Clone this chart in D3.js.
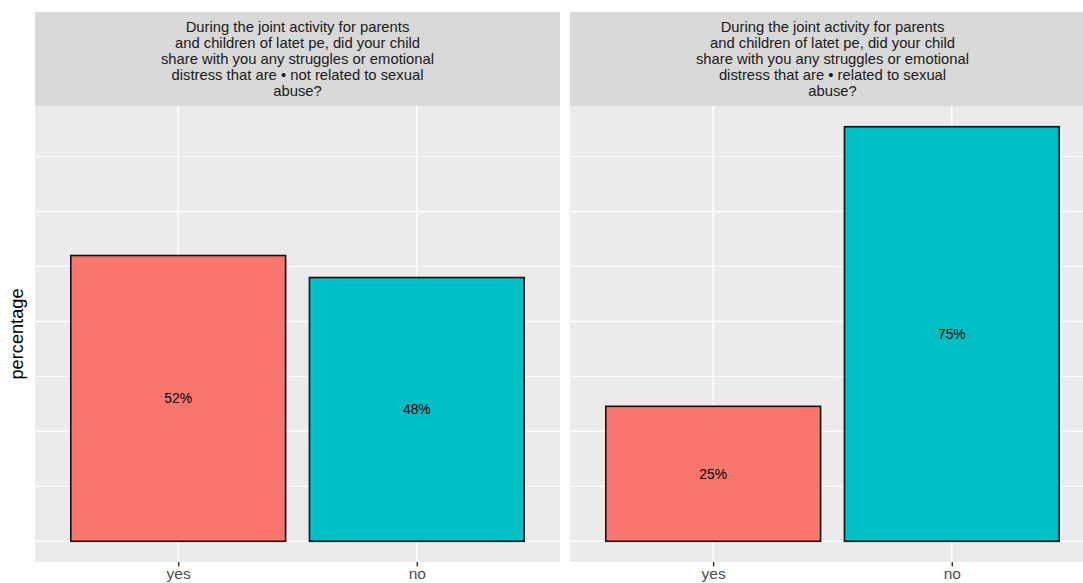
<!DOCTYPE html>
<html><head><meta charset="utf-8">
<script src="https://cdn.jsdelivr.net/npm/d3@7"></script>
<style>body{margin:0;background:#fff}svg{display:block}</style>
</head><body>
<svg id="c" width="1083" height="583"></svg>
<script>
const categories = ["yes", "no"];
const tickLabels = ["yes", "no"];
const facetTitles = [
  ["During the joint activity for parents","and children of latet pe, did your child","share with you any struggles or emotional","distress that are \u2022 not related to sexual","abuse?"],
  ["During the joint activity for parents","and children of latet pe, did your child","share with you any struggles or emotional","distress that are \u2022 related to sexual","abuse?"]
];
const facetValues = [[0.52, 0.48],[0.2456, 0.7544]];
const valueLabels = [["52%","48%"],["25%","75%"]];
const majorBreaks = [0, 0.2, 0.4, 0.6];
const minorBreaks = [0.1, 0.3, 0.5, 0.7];
const colors = ["#F8766D", "#00BFC4"];

const svg = d3.select("#c");
const font = "'Liberation Sans', Arial, sans-serif";
const panelTop = 106, panelBottom = 562, stripTop = 12;
const panelW = 525;
const panelX = [35, 570];

const vmax = d3.max(facetValues.flat());
const y = d3.scaleLinear().domain([-0.05*vmax, 1.05*vmax]).range([panelBottom, panelTop]);
const xLin = d3.scaleLinear().domain([0.4, 2.6]).range([0, panelW]);

facetValues.forEach((vals, f) => {
  const g = svg.append("g").attr("transform", `translate(${panelX[f]},0)`);
  // strip
  g.append("rect").attr("x",0).attr("y",stripTop).attr("width",panelW).attr("height",panelTop-stripTop).attr("fill","#D9D9D9");
  const lines = facetTitles[f];
  const cy = (stripTop+panelTop)/2, lh = 16;
  g.append("g").selectAll("text").data(lines).join("text")
    .attr("x", panelW/2)
    .attr("y", (d,i)=> cy + (i-(lines.length-1)/2)*lh)
    .attr("dy","0.35em")
    .attr("text-anchor","middle")
    .attr("font-family",font).attr("font-size",14.8)
    .attr("fill","#1A1A1A")
    .text(d=>d);
  // panel
  g.append("rect").attr("x",0).attr("y",panelTop).attr("width",panelW).attr("height",panelBottom-panelTop).attr("fill","#EBEBEB");
  g.append("g").selectAll("line.minor").data(minorBreaks).join("line")
    .attr("x1",0).attr("x2",panelW).attr("y1",d=>y(d)).attr("y2",d=>y(d))
    .attr("stroke","#fff").attr("stroke-width",0.9);
  g.append("g").selectAll("line.major").data(majorBreaks).join("line")
    .attr("x1",0).attr("x2",panelW).attr("y1",d=>y(d)).attr("y2",d=>y(d))
    .attr("stroke","#fff").attr("stroke-width",1.6);
  g.append("g").selectAll("line.v").data(categories).join("line")
    .attr("x1",(d,i)=>xLin(i+1)).attr("x2",(d,i)=>xLin(i+1))
    .attr("y1",panelTop).attr("y2",panelBottom)
    .attr("stroke","#fff").attr("stroke-width",1.6);
  // bars
  const bw = xLin(1.45) - xLin(1);
  g.append("g").selectAll("rect").data(vals).join("rect")
    .attr("x",(d,i)=>xLin(i+1)-bw)
    .attr("width",2*bw)
    .attr("y",d=>y(d))
    .attr("height",d=>y(0)-y(d))
    .attr("fill",(d,i)=>colors[i])
    .attr("stroke","#111").attr("stroke-width",1.6);
  g.append("g").selectAll("text").data(vals).join("text")
    .attr("x",(d,i)=>xLin(i+1))
    .attr("y",d=>(y(d)+y(0))/2)
    .attr("dy","0.35em")
    .attr("text-anchor","middle")
    .attr("font-family",font).attr("font-size",13.8)
    .attr("fill","#000")
    .text((d,i)=>valueLabels[f][i]);
  // x axis
  const xb = d3.scalePoint().domain(tickLabels).range([xLin(1), xLin(2)]);
  const ax = g.append("g").attr("transform",`translate(0,${panelBottom})`)
    .call(d3.axisBottom(xb).tickSize(4.5).tickPadding(1.2));
  ax.select(".domain").remove();
  ax.selectAll(".tick line").attr("stroke","#333").attr("stroke-width",1.4);
  ax.selectAll(".tick text").attr("font-family",font).attr("font-size",15.5).attr("fill","#4D4D4D");
});

svg.append("text")
  .attr("transform",`translate(17,${(panelTop+panelBottom)/2}) rotate(-90)`)
  .attr("text-anchor","middle").attr("dy","0.35em")
  .attr("font-family",font).attr("font-size",18.2).attr("fill","#000")
  .text("percentage");
</script>
</body></html>
